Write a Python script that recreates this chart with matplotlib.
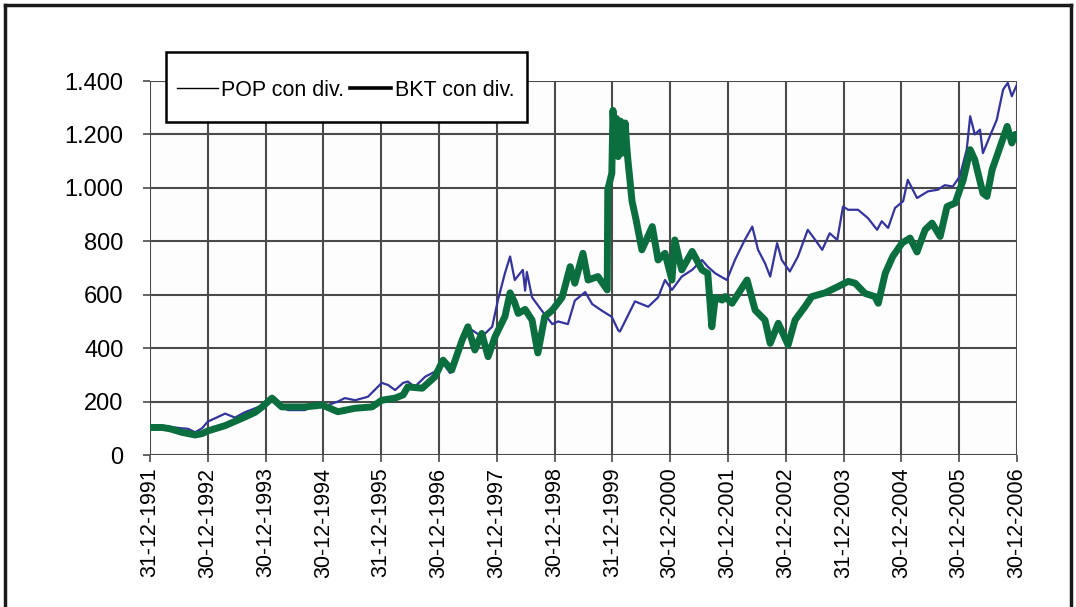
import matplotlib.pyplot as plt
from matplotlib.lines import Line2D
from matplotlib.patches import Rectangle

# ==================================================
# data (years since 31-12-1991, index value)
# ==================================================

pop_t = [0.00, 0.21, 0.35, 0.55, 0.66, 0.78, 0.90, 1.00, 1.30, 1.47, 1.64, 1.82, 1.94,
         2.11, 2.20, 2.39, 2.68, 2.85, 3.08, 3.25, 3.37, 3.55, 3.77, 4.01, 4.12, 4.24,
         4.38, 4.46, 4.58, 4.76, 4.93, 5.05, 5.19, 5.40, 5.57, 5.74, 5.92, 6.02, 6.14,
         6.23, 6.31, 6.45, 6.49, 6.52, 6.61, 6.78, 6.96, 7.06, 7.23, 7.35, 7.53, 7.65,
         7.82, 7.99, 8.10, 8.13, 8.39, 8.62, 8.79, 8.91, 9.03, 9.20, 9.38, 9.55, 9.65,
         9.78, 9.98, 10.12, 10.29, 10.42, 10.52, 10.64, 10.73, 10.85, 10.93, 11.07,
         11.21, 11.38, 11.51, 11.63, 11.76, 11.89, 11.99, 12.08, 12.25, 12.42, 12.58,
         12.66, 12.77, 12.89, 13.03, 13.11, 13.27, 13.46, 13.63, 13.75, 13.89, 14.01,
         14.13, 14.19, 14.27, 14.36, 14.41, 14.53, 14.65, 14.76, 14.84, 14.91, 15.00]
pop_v = [110, 110, 105, 100, 98, 85, 100, 125, 155, 140, 160, 175, 185,
         213, 187, 168, 168, 187, 187, 200, 213, 205, 218, 270, 262, 243,
         270, 275, 255, 293, 312, 350, 307, 430, 468, 443, 480, 580, 680,
         743, 655, 693, 615, 685, 590, 540, 490, 500, 490, 578, 610, 565,
         540, 517, 467, 462, 575, 555, 590, 655, 618, 668, 693, 730, 705,
         680, 655, 730, 805, 855, 768, 718, 668, 793, 730, 687,
         743, 843, 805, 768, 830, 805, 930, 918, 918, 887, 843,
         875, 850, 925, 950, 1030, 962, 987, 993, 1010, 1005, 1043,
         1143, 1268, 1200, 1218, 1130, 1193, 1255, 1368, 1393, 1343, 1387]

bkt_t = [0.00, 0.21, 0.35, 0.55, 0.78, 0.90, 1.00, 1.30, 1.64, 1.82, 1.94, 2.11, 2.28,
         2.68, 2.98, 3.25, 3.55, 3.84, 4.01, 4.24, 4.38, 4.46, 4.71, 4.93, 5.07, 5.22,
         5.40, 5.50, 5.62, 5.74, 5.85, 5.97, 6.14, 6.23, 6.31, 6.37, 6.49, 6.61, 6.71,
         6.83, 6.96, 7.13, 7.27, 7.35, 7.49, 7.58, 7.75, 7.91, 7.92, 7.99, 8.01, 8.04,
         8.07, 8.10, 8.14, 8.18, 8.22, 8.25, 8.27, 8.34, 8.41, 8.51, 8.69, 8.79, 8.91,
         9.03, 9.08, 9.20, 9.38, 9.55, 9.65, 9.72, 9.78, 9.90, 9.95, 10.07, 10.33,
         10.47, 10.64, 10.73, 10.87, 11.04, 11.16, 11.33, 11.45, 11.68, 11.90, 12.08,
         12.20, 12.37, 12.54, 12.60, 12.72, 12.85, 13.01, 13.15, 13.27, 13.41, 13.53,
         13.67, 13.79, 13.93, 14.07, 14.19, 14.27, 14.41, 14.48, 14.57, 14.67, 14.83,
         14.91, 14.97, 15.00]
bkt_v = [103, 103, 98, 85, 75, 80, 90, 110, 142, 160, 180, 213, 180,
         180, 187, 162, 175, 180, 205, 213, 225, 255, 250, 293, 355, 318,
         430, 480, 393, 455, 368, 443, 518, 607, 570, 530, 545, 505, 382,
         518, 542, 590, 705, 643, 755, 655, 668, 618, 993, 1055, 1290, 1150,
         1260, 1117, 1250, 1130, 1243, 1150, 1100, 950, 880, 768, 855, 730, 755,
         655, 805, 693, 762, 693, 680, 480, 590, 580, 593, 568, 655,
         542, 505, 418, 493, 412, 505, 555, 593, 607, 630, 650,
         643, 605, 593, 568, 680, 743, 793, 812, 760, 843, 868,
         818, 930, 943, 1030, 1143, 1105, 980, 968, 1068, 1130, 1230,
         1168, 1200, 1190]

x_labels = ['31-12-1991', '30-12-1992', '30-12-1993', '30-12-1994', '31-12-1995',
            '30-12-1996', '30-12-1997', '30-12-1998', '31-12-1999', '30-12-2000',
            '30-12-2001', '30-12-2002', '31-12-2003', '30-12-2004', '30-12-2005',
            '30-12-2006']
y_ticks = [0, 200, 400, 600, 800, 1000, 1200, 1400]
y_labels = ['0', '200', '400', '600', '800', '1.000', '1.200', '1.400']

# ==================================================
# figure
# ==================================================

plt.rcParams['font.family'] = ['Liberation Sans', 'DejaVu Sans']

fig = plt.figure(figsize=(10.76, 6.07), dpi=100)
ax = fig.add_axes([150 / 1076, 152 / 607, 867 / 1076, 374 / 607])
ax.set_facecolor('#fdfdfd')

ax.plot(pop_t, pop_v, color='#34349c', lw=1.6, zorder=3)
ax.plot(bkt_t, bkt_v, color='#0b6e3e', lw=5, zorder=4)

ax.set_xlim(0, 15)
ax.set_ylim(0, 1400)
ax.set_xticks(range(16))
ax.set_xticklabels(x_labels, rotation=90, fontsize=15.5)
ax.set_yticks(y_ticks)
ax.set_yticklabels(y_labels, fontsize=17)

ax.grid(True, color='#4a4a4a', lw=1.5)
ax.set_axisbelow(True)
for s in ax.spines.values():
    s.set_visible(False)
ax.tick_params(axis='x', length=5, color='#4a4a4a', width=1.2, pad=4)
ax.tick_params(axis='y', length=5, color='#4a4a4a', width=1.2, pad=14)

# legend box
fig.patches.append(Rectangle((166 / 1076, 1 - 122 / 607), 361 / 1076, 70 / 607,
                             transform=fig.transFigure, facecolor='white',
                             edgecolor='black', lw=1.8, zorder=10))
handles = [Line2D([], [], color='black', lw=1.0),
           Line2D([], [], color='black', lw=2.6)]
leg = fig.legend(handles, ['POP con div.', 'BKT con div.'], ncol=2,
                 loc='center left', bbox_to_anchor=(166 / 1076, 1 - 90 / 607),
                 frameon=False, fontsize=15.5, handlelength=1.9,
                 handletextpad=0.15, columnspacing=0.3, borderpad=0)
leg.set_zorder(11)

# outer frame
for xs, ys in [([5, 1071], [5, 5]), ([1071, 1071], [5, 607]), ([5, 5], [5, 607])]:
    fig.add_artist(Line2D([x / 1076 for x in xs], [1 - y / 607 for y in ys],
                          transform=fig.transFigure, color='#1a1a1a', lw=2.5))

plt.savefig('out.png', dpi=100)
